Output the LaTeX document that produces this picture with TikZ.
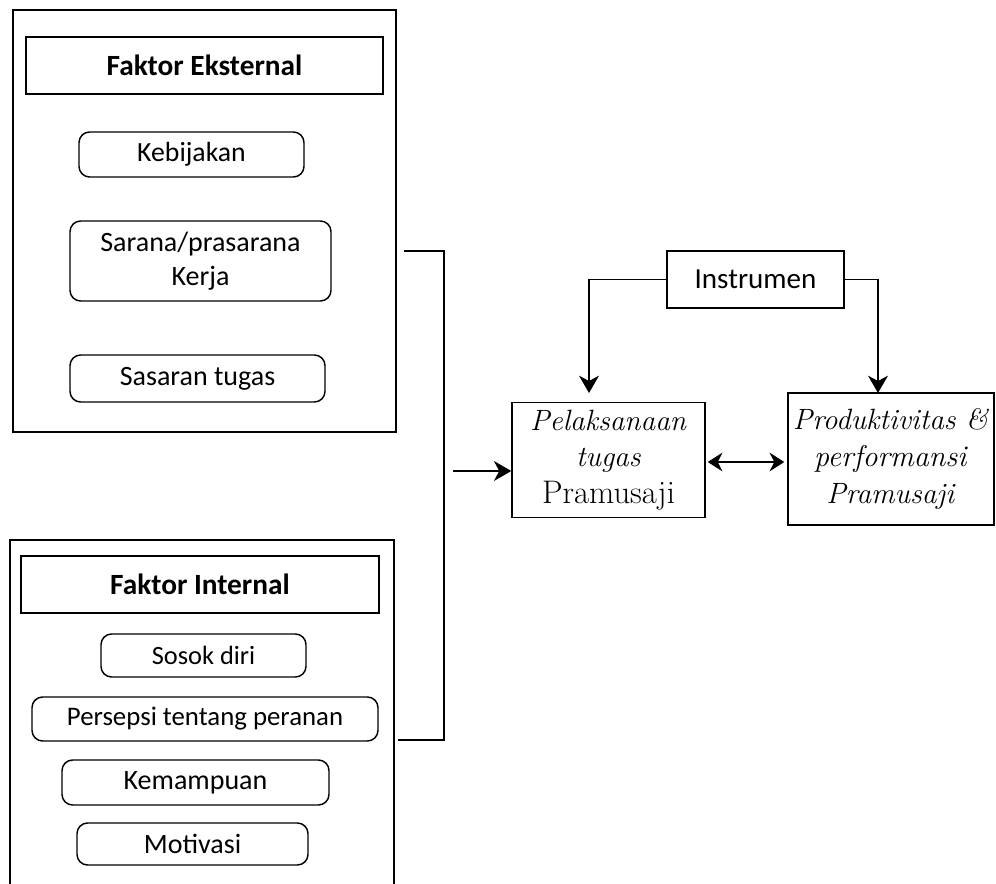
\documentclass[tikz,border=0pt]{standalone}
\usepackage{fontspec}
\newfontfamily\carl{Carlito}
\usetikzlibrary{arrows.meta,calc}
\newcommand{\fsz}[1]{\fontsize{#1}{25.5}\selectfont}
\begin{document}
\begin{tikzpicture}[x=0.75pt,y=-0.75pt,
  line width=1.1pt,
  box/.style={draw,inner sep=0pt,align=center,font=\carl\fsz{19.8}},
  rbox/.style={box,rounded corners=8pt},
  head/.style={box,line width=1pt,font=\carl\bfseries\fsz{22}},
  serifbox/.style={draw,inner sep=0pt,align=center,font=\fontsize{22}{27.4}\selectfont},
  arr/.style={-{Stealth[length=13pt,width=15pt,inset=4pt]}},
  darr/.style={{Stealth[length=11pt,width=14pt,inset=3.5pt]}-{Stealth[length=11pt,width=14pt,inset=3.5pt]}}
]
\useasboundingbox (0,0) rectangle (996,884);

% External factor group
\node[box,minimum width=287.25pt,minimum height=316.5pt] (ext) at (204.5,221) {};
\node[head,minimum width=267.75pt,minimum height=42.75pt] (exth) at (204.5,65.5) {Faktor Eksternal};
\node[rbox,font=\carl\fsz{20.8},minimum width=168.75pt,minimum height=33.75pt] (keb) at (191.5,154.5) {Kebijakan};
\node[rbox,font=\carl\fsz{21},minimum width=195.75pt,minimum height=60pt] (sar) at (200.5,261) {Sarana/prasarana\\Kerja};
\node[rbox,font=\carl\fsz{21},minimum width=191.25pt,minimum height=35.25pt] (sas) at (197.5,378.5) {Sasaran tugas};

% Internal factor group
\node[box,minimum width=288pt,minimum height=270pt] (int) at (202,720) {};
\node[head,minimum width=268.5pt,minimum height=42.75pt] (inth) at (200,584.5) {Faktor Internal};
\node[rbox,minimum width=153.75pt,minimum height=32.25pt] (sos) at (203.5,655.5) {Sosok diri};
\node[rbox,font=\carl\fsz{20.1},minimum width=259.5pt,minimum height=33pt] (per) at (205,719) {Persepsi tentang peranan};
\node[rbox,font=\carl\fsz{21},minimum width=200.25pt,minimum height=33.75pt] (kem) at (195.5,782.5) {Kemampuan};
\node[rbox,font=\carl\fsz{21},minimum width=173.25pt,minimum height=31.5pt] (mot) at (192.5,844) {Motivasi};

% Right side
\node[box,font=\carl\fsz{21.8},minimum width=132.75pt,minimum height=42.75pt] (ins) at (755.5,279.5) {Instrumen};
\node[serifbox,minimum width=144.75pt,minimum height=86.25pt] (pel) at (608.5,460)
  {\textit{Pelaksanaan}\\\textit{tugas}\\{\fontsize{24.5}{27.4}\selectfont Pramusaji}};
\node[serifbox,minimum width=154.5pt,minimum height=99pt] (prod) at (891,459)
  {\textit{Produktivitas \&}\\{\fontsize{22.5}{27.4}\selectfont\textit{performansi}}\\\textit{Pramusaji}};

% Connectors
\coordinate (j1) at (444,251);
\coordinate (j2) at (444,740);
\draw ($(ext.east |- j1)+(7,0)$) -- (j1) -- (j2) -- ($(int.east |- j2)+(3,0)$);
\coordinate (a0) at (453,471);
\draw[arr] (a0) -- (pel.west |- a0);
\coordinate (t1) at (589,393);
\coordinate (t2) at (878,393);
\draw[arr] (ins.west) -| (t1);
\draw[arr] (ins.east) -| (t2);
\draw[darr] ($(pel.east)+(2,2)$) -- ($(prod.west |- pel.east)+(-3,2)$);
\end{tikzpicture}
\end{document}
